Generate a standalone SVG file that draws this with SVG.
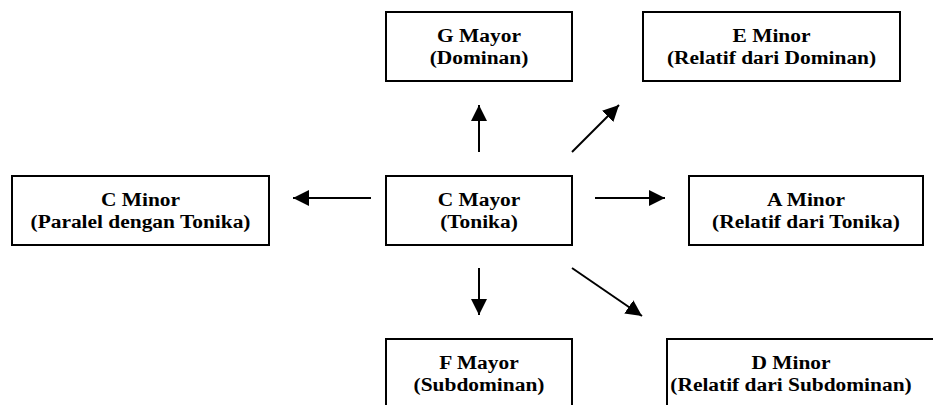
<svg xmlns="http://www.w3.org/2000/svg" width="933" height="405" viewBox="0 0 933 405">
<defs>
<style>
.box{fill:#fff;stroke:#000;stroke-width:2}
.lbl{font-family:'Liberation Serif','Times New Roman','DejaVu Serif',serif;font-weight:700;font-size:18px;fill:#000;text-anchor:middle}
.arr{stroke:#000;stroke-width:2;fill:none;marker-end:url(#ah)}
</style>
<marker id="ah" markerUnits="userSpaceOnUse" markerWidth="18" markerHeight="16" refX="16" refY="8" orient="auto">
<path d="M0,0 L16,8 L0,16 Z" fill="#000"/>
</marker>
</defs>
<rect width="933" height="405" fill="#fff"/>
<g id="connectors">
<line class="arr" x1="479" y1="152" x2="479" y2="105"/>
<line class="arr" x1="572" y1="152" x2="619" y2="105"/>
<line class="arr" x1="371" y1="198" x2="293" y2="198"/>
<line class="arr" x1="595" y1="198" x2="665" y2="198"/>
<line class="arr" x1="479" y1="268" x2="479" y2="315"/>
<line class="arr" x1="572" y1="268" x2="642" y2="316"/>
</g>
<g id="g-mayor">
<rect class="box" x="386" y="12" width="186" height="69"/>
<text class="lbl" font-family="Liberation Serif" transform="translate(479,42) scale(1.19,1)">G Mayor</text>
<text class="lbl" font-family="Liberation Serif" transform="translate(479,64) scale(1.19,1)">(Dominan)</text>
</g>
<g id="e-minor">
<rect class="box" x="643" y="12" width="257" height="69"/>
<text class="lbl" font-family="Liberation Serif" transform="translate(771.5,42) scale(1.19,1)">E Minor</text>
<text class="lbl" font-family="Liberation Serif" transform="translate(771.5,64) scale(1.19,1)">(Relatif dari Dominan)</text>
</g>
<g id="c-minor">
<rect class="box" x="12" y="176" width="257" height="69"/>
<text class="lbl" font-family="Liberation Serif" transform="translate(140.5,206) scale(1.19,1)">C Minor</text>
<text class="lbl" font-family="Liberation Serif" transform="translate(140.5,228) scale(1.19,1)">(Paralel dengan Tonika)</text>
</g>
<g id="c-mayor">
<rect class="box" x="386" y="176" width="186" height="69"/>
<text class="lbl" font-family="Liberation Serif" transform="translate(479,206) scale(1.19,1)">C Mayor</text>
<text class="lbl" font-family="Liberation Serif" transform="translate(479,228) scale(1.19,1)">(Tonika)</text>
</g>
<g id="a-minor">
<rect class="box" x="689" y="176" width="234" height="69"/>
<text class="lbl" font-family="Liberation Serif" transform="translate(806,206) scale(1.19,1)">A Minor</text>
<text class="lbl" font-family="Liberation Serif" transform="translate(806,228) scale(1.19,1)">(Relatif dari Tonika)</text>
</g>
<g id="f-mayor">
<rect class="box" x="386" y="339" width="186" height="80"/>
<text class="lbl" font-family="Liberation Serif" transform="translate(479,369) scale(1.19,1)">F Mayor</text>
<text class="lbl" font-family="Liberation Serif" transform="translate(479,391) scale(1.19,1)">(Subdominan)</text>
</g>
<g id="d-minor">
<rect class="box" x="667" y="339" width="290" height="80"/>
<text class="lbl" font-family="Liberation Serif" transform="translate(791,369) scale(1.19,1)">D Minor</text>
<text class="lbl" font-family="Liberation Serif" transform="translate(791,391) scale(1.19,1)">(Relatif dari Subdominan)</text>
</g>
</svg>
